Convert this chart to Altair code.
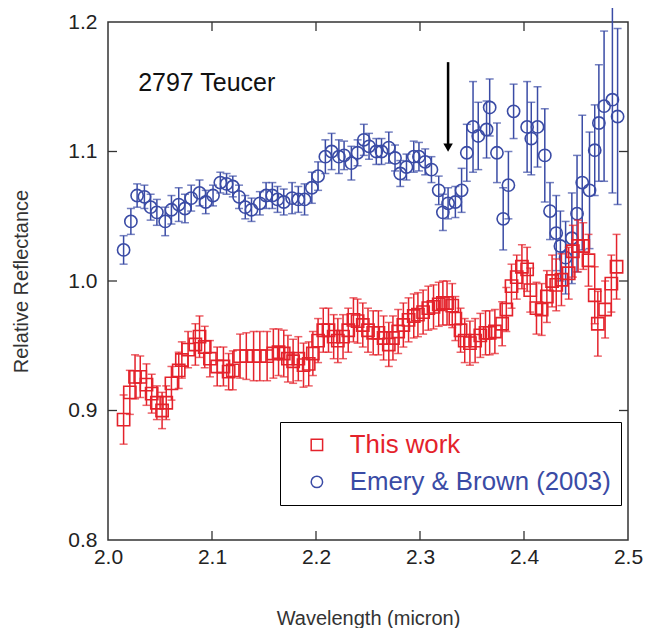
import altair as alt
import pandas as pd

# ---- data ----
blue_x = [2.015, 2.022, 2.028, 2.035, 2.041, 2.047, 2.055, 2.061, 2.068, 2.074,
          2.080, 2.088, 2.094, 2.101, 2.108, 2.114, 2.120, 2.126, 2.132, 2.138,
          2.146, 2.152, 2.158, 2.163, 2.169, 2.177, 2.183, 2.189, 2.196, 2.202,
          2.209, 2.215, 2.222, 2.227, 2.234, 2.240, 2.246, 2.251, 2.258, 2.263,
          2.270, 2.276, 2.281, 2.287, 2.294, 2.299, 2.305, 2.311, 2.318, 2.322,
          2.327, 2.334, 2.340, 2.345, 2.351, 2.356, 2.364, 2.367, 2.374, 2.380,
          2.385, 2.390, 2.403, 2.407, 2.413, 2.420, 2.425, 2.431, 2.435, 2.440,
          2.446, 2.451, 2.456, 2.463, 2.468, 2.472, 2.477, 2.485, 2.490]
blue_y = [1.024, 1.046, 1.066, 1.065, 1.057, 1.053, 1.046, 1.055, 1.059, 1.056,
          1.064, 1.068, 1.061, 1.066, 1.076, 1.075, 1.073, 1.065, 1.057, 1.055,
          1.060, 1.066, 1.066, 1.063, 1.061, 1.064, 1.063, 1.063, 1.072, 1.081,
          1.096, 1.100, 1.096, 1.097, 1.091, 1.099, 1.109, 1.104, 1.100, 1.100,
          1.103, 1.095, 1.083, 1.088, 1.096, 1.096, 1.092, 1.086, 1.070, 1.053,
          1.060, 1.061, 1.070, 1.099, 1.119, 1.112, 1.117, 1.134, 1.099, 1.048,
          1.074, 1.131, 1.119, 1.110, 1.119, 1.097, 1.054, 1.037, 1.027, 1.018,
          1.033, 1.052, 1.076, 1.070, 1.101, 1.122, 1.135, 1.140, 1.127]
blue_err = [0.011, 0.010, 0.009, 0.009, 0.010, 0.010, 0.011, 0.011, 0.013, 0.011,
            0.010, 0.010, 0.009, 0.008, 0.008, 0.008, 0.008, 0.009, 0.009, 0.009,
            0.009, 0.010, 0.010, 0.010, 0.010, 0.012, 0.010, 0.012, 0.012, 0.011,
            0.013, 0.014, 0.013, 0.011, 0.013, 0.010, 0.012, 0.010, 0.010, 0.010,
            0.012, 0.010, 0.010, 0.010, 0.012, 0.011, 0.010, 0.010, 0.011, 0.014,
            0.012, 0.012, 0.017, 0.022, 0.035, 0.026, 0.022, 0.022, 0.023, 0.024,
            0.026, 0.021, 0.035, 0.028, 0.031, 0.036, 0.022, 0.029, 0.027, 0.028,
            0.035, 0.045, 0.052, 0.045, 0.035, 0.045, 0.058, 0.072, 0.068]

red_x = [2.015, 2.021, 2.026, 2.031, 2.037, 2.042, 2.047, 2.052, 2.056, 2.061,
         2.068, 2.071, 2.077, 2.084, 2.088, 2.093, 2.098, 2.105, 2.111, 2.116,
         2.120, 2.127, 2.133, 2.140, 2.146, 2.153, 2.159, 2.164, 2.169, 2.173,
         2.178, 2.183, 2.188, 2.193, 2.197, 2.202, 2.207, 2.212, 2.217, 2.221,
         2.226, 2.231, 2.236, 2.240, 2.245, 2.250, 2.255, 2.260, 2.265, 2.270,
         2.274, 2.279, 2.284, 2.289, 2.294, 2.298, 2.303, 2.308, 2.313, 2.318,
         2.322, 2.326, 2.331, 2.334, 2.339, 2.343, 2.348, 2.353, 2.358, 2.363,
         2.367, 2.372, 2.379, 2.383, 2.388, 2.393, 2.398, 2.403, 2.406, 2.412,
         2.417, 2.422, 2.427, 2.431, 2.436, 2.443, 2.447, 2.452, 2.457, 2.462,
         2.468, 2.471, 2.478, 2.484, 2.489]
red_y = [0.893, 0.914, 0.926, 0.926, 0.920, 0.913, 0.906, 0.900, 0.906, 0.921,
         0.931, 0.939, 0.947, 0.951, 0.957, 0.949, 0.940, 0.934, 0.934, 0.930,
         0.931, 0.942, 0.942, 0.942, 0.942, 0.942, 0.944, 0.945, 0.944, 0.940,
         0.938, 0.940, 0.935, 0.936, 0.944, 0.954, 0.962, 0.962, 0.957, 0.954,
         0.957, 0.962, 0.970, 0.969, 0.966, 0.962, 0.960, 0.960, 0.956, 0.951,
         0.956, 0.961, 0.966, 0.970, 0.973, 0.974, 0.976, 0.979, 0.980, 0.982,
         0.983, 0.983, 0.981, 0.971, 0.962, 0.954, 0.952, 0.954, 0.958, 0.960,
         0.960, 0.961, 0.967, 0.978, 0.996, 1.003, 1.011, 1.009, 0.993, 0.979,
         0.978, 0.988, 1.000, 0.997, 1.001, 1.006, 1.023, 1.027, 1.027, 1.016,
         0.989, 0.967, 0.978, 0.998, 1.011]
red_err = [0.019, 0.017, 0.017, 0.016, 0.016, 0.015, 0.013, 0.014, 0.013, 0.013,
           0.014, 0.014, 0.014, 0.016, 0.016, 0.016, 0.014, 0.015, 0.015, 0.014,
           0.015, 0.017, 0.018, 0.019, 0.019, 0.019, 0.019, 0.018, 0.018, 0.018,
           0.017, 0.017, 0.017, 0.017, 0.017, 0.017, 0.017, 0.017, 0.017, 0.017,
           0.017, 0.017, 0.017, 0.017, 0.017, 0.017, 0.017, 0.017, 0.017, 0.017,
           0.017, 0.017, 0.017, 0.017, 0.017, 0.017, 0.017, 0.017, 0.017, 0.017,
           0.017, 0.017, 0.017, 0.017, 0.017, 0.017, 0.017, 0.017, 0.017, 0.017,
           0.017, 0.017, 0.017, 0.017, 0.017, 0.017, 0.017, 0.017, 0.017, 0.020,
           0.020, 0.020, 0.020, 0.020, 0.020, 0.020, 0.020, 0.020, 0.018, 0.020,
           0.022, 0.025, 0.022, 0.022, 0.025]

series_names = ["This work", "Emery & Brown (2003)"]
series_colors = ["#E4222B", "#3A4BA5"]
series_shapes = ["square", "circle"]

x_ticks = [2.0, 2.1, 2.2, 2.3, 2.4, 2.5]
y_ticks = [0.8, 0.9, 1.0, 1.1, 1.2]
x_inner_ticks = [2.1, 2.2, 2.3, 2.4]
y_inner_ticks = [0.9, 1.0, 1.1]

annotation_text = ["2797 Teucer"]
annotation_x = [2.029]
annotation_y = [1.147]
arrow_x = [2.327]
arrow_top = [1.169]
arrow_tip = [1.103]

# ---- tables ----
W, H = 520, 518
FONT = "Liberation Sans"


def make_df(xs_, ys_, es_, name):
    d = pd.DataFrame({"x": xs_, "y": ys_, "err": es_})
    d["series"] = name
    d["lo"] = d["y"] - d["err"]
    d["hi"] = d["y"] + d["err"]
    return d


red_df = make_df(red_x, red_y, red_err, series_names[0])
blue_df = make_df(blue_x, blue_y, blue_err, series_names[1])

xs = alt.Scale(domain=[2.0, 2.5], nice=False, zero=False)
ys = alt.Scale(domain=[0.8, 1.2], nice=False, zero=False)
cs = alt.Scale(domain=series_names, range=series_colors)
ss = alt.Scale(domain=series_names, range=series_shapes)

x_axis = alt.Axis(values=x_ticks, format=".1f", grid=False, domain=False, ticks=False,
                  labelFont=FONT, labelFontSize=21, labelColor="#222222", labelPadding=6,
                  labelFlush=False, labelOverlap=False,
                  title="Wavelength (micron)", titleFont=FONT, titleFontSize=20,
                  titleFontWeight="normal", titleColor="#333333", titlePadding=41)
y_axis = alt.Axis(values=y_ticks, format=".1f", grid=False, domain=False, ticks=False,
                  labelFont=FONT, labelFontSize=21, labelColor="#222222", labelPadding=11,
                  labelFlush=False, labelOverlap=False,
                  title="Relative Reflectance", titleFont=FONT, titleFontSize=20,
                  titleFontWeight="normal", titleColor="#333333", titlePadding=36)

legend = alt.Legend(title=None, orient="none", legendX=172, legendY=400,
                    strokeColor="black", fillColor="white",
                    padding=10, symbolOffset=14, labelOffset=20,
                    rowPadding=10, labelFont=FONT, labelFontSize=25.8, labelLimit=500,
                    symbolSize=130, symbolStrokeWidth=1.5,
                    labelColor=alt.ExprRef("datum.label == 'This work' ? '#E4222B' : '#3A4BA5'"))


def X(field):
    return alt.X(field, scale=xs, axis=x_axis)


def Y(field):
    return alt.Y(field, scale=ys, axis=y_axis)


def series_layers(d, col):
    base = alt.Chart(d)
    rule = base.mark_rule(strokeWidth=1.5, color=col).encode(
        x=X("x:Q"), y=Y("lo:Q"), y2="hi:Q")
    cap_lo = base.mark_tick(orient="horizontal", size=8, thickness=1.5, color=col).encode(
        x=X("x:Q"), y=Y("lo:Q"))
    cap_hi = base.mark_tick(orient="horizontal", size=8, thickness=1.5, color=col).encode(
        x=X("x:Q"), y=Y("hi:Q"))
    pts = base.mark_point(filled=False, size=150, strokeWidth=1.6, opacity=1).encode(
        x=X("x:Q"), y=Y("y:Q"),
        color=alt.Color("series:N", scale=cs, legend=legend),
        shape=alt.Shape("series:N", scale=ss, legend=legend))
    return [rule, cap_lo, cap_hi, pts]


# frame ticks pointing inward
xt = pd.DataFrame({"v": x_inner_ticks})
yt = pd.DataFrame({"v": y_inner_ticks})
tick_bottom = alt.Chart(xt).mark_rule(color="#333333", strokeWidth=1.3).encode(
    x=X("v:Q"), y=alt.value(H), y2=alt.value(H - 9))
tick_top = alt.Chart(xt).mark_rule(color="#333333", strokeWidth=1.3).encode(
    x=X("v:Q"), y=alt.value(0), y2=alt.value(9))
tick_left = alt.Chart(yt).mark_rule(color="#333333", strokeWidth=1.3).encode(
    y=Y("v:Q"), x=alt.value(0), x2=alt.value(9))
tick_right = alt.Chart(yt).mark_rule(color="#333333", strokeWidth=1.3).encode(
    y=Y("v:Q"), x=alt.value(W), x2=alt.value(W - 9))

ann = pd.DataFrame({"t": annotation_text, "x": annotation_x, "y": annotation_y})
label = alt.Chart(ann).mark_text(align="left", baseline="alphabetic", font=FONT,
                                 fontSize=25, color="#111111").encode(
    x=X("x:Q"), y=Y("y:Q"), text="t:N")

arr = pd.DataFrame({"x": arrow_x, "top": arrow_top, "tip": arrow_tip})
arrow_line = alt.Chart(arr).mark_rule(color="black", strokeWidth=2.5).encode(
    x=X("x:Q"), y=Y("top:Q"), y2="tip:Q")
arrow_head = alt.Chart(arr).mark_point(shape="triangle-down", filled=True, color="black",
                                       size=90, opacity=1).encode(
    x=X("x:Q"), y=Y("tip:Q"))

layers = (series_layers(blue_df, series_colors[1]) + series_layers(red_df, series_colors[0])
          + [tick_bottom, tick_top, tick_left, tick_right, label, arrow_line, arrow_head])

chart = alt.layer(*layers).properties(
    width=W, height=H,
    autosize=alt.AutoSizeParams(type="none"),
    padding={"left": 100, "top": 14, "right": 16, "bottom": 88},
    background="white",
).configure_view(stroke="#333333", strokeWidth=1.5)

chart.save("out.html", embed_options={"renderer": "svg", "actions": False})
